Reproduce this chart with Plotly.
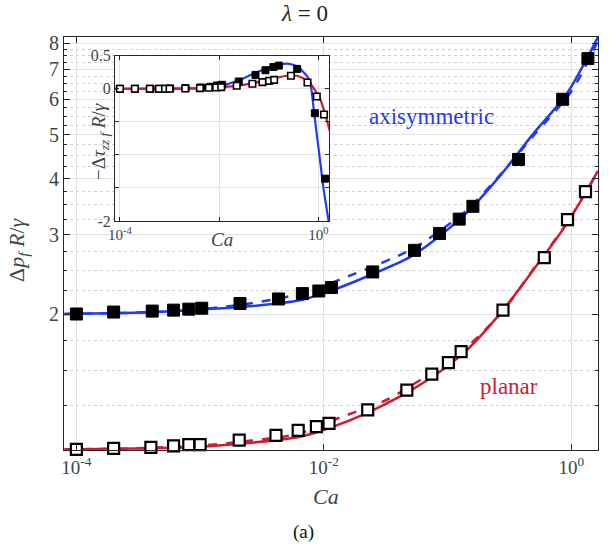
import plotly.graph_objects as go

# ---------------- data: main panel (markers) ----------------
ca_axi = [1e-4, 2e-4, 4.1e-4, 6.1e-4, 8.1e-4, 1.03e-3, 2.1e-3, 4.3e-3, 6.7e-3, 9.1e-3, 1.15e-2,
          2.48e-2, 0.054, 0.086, 0.124, 0.16, 0.374, 0.85, 1.36]
dp_axi = [2.00, 2.02, 2.03, 2.04, 2.05, 2.06, 2.11, 2.16, 2.22, 2.25, 2.29,
          2.48, 2.77, 3.02, 3.25, 3.47, 4.41, 6.00, 7.39]
ca_pla = [1e-4, 2e-4, 4e-4, 6.1e-4, 8.1e-4, 1e-3, 2.07e-3, 4.1e-3, 6.2e-3, 8.7e-3, 1.1e-2,
          0.0226, 0.0468, 0.0745, 0.1014, 0.1285, 0.28, 0.604, 0.93, 1.30, 1.68]
dp_pla = [1.00, 1.006, 1.011, 1.018, 1.025, 1.025, 1.049, 1.075, 1.103, 1.124, 1.143,
          1.224, 1.355, 1.47, 1.56, 1.65, 2.04, 2.67, 3.24, 3.74, 4.24]

# ---------------- data: main panel (curves) ----------------
ca_axi_solid = [8e-5, 3.2e-4, 1e-3, 2.5e-3, 6.4e-3, 1.18e-2, 2.2e-2, 5e-2, 7.7e-2, 0.143, 0.266, 0.495, 0.92, 1.64]
dp_axi_solid = [2.0, 2.015, 2.045, 2.08, 2.145, 2.26, 2.42, 2.68, 2.91, 3.36, 4.06, 5.04, 6.18, 8.25]
ca_axi_dash = [8e-5, 3.2e-4, 1e-3, 2.5e-3, 6.4e-3, 1.6e-2, 5.2e-2, 0.1, 0.143, 0.25, 0.5, 1.0, 1.64]
dp_axi_dash = [2.0, 2.015, 2.05, 2.11, 2.22, 2.43, 2.79, 3.15, 3.40, 4.0, 5.0, 6.25, 8.1]
ca_pla_solid = [8e-5, 3e-4, 1e-3, 6.4e-3, 1.19e-2, 2.2e-2, 4.1e-2, 7.7e-2, 0.143, 0.266, 0.495, 0.923, 1.64]
dp_pla_solid = [1.0, 1.005, 1.014, 1.067, 1.124, 1.203, 1.31, 1.456, 1.663, 2.006, 2.51, 3.18, 4.16]
ca_pla_dash = [8e-5, 3e-4, 1e-3, 2.5e-3, 6.4e-3, 1.19e-2, 3.2e-2, 4.7e-2, 7.7e-2, 0.126, 0.207, 0.28, 0.5, 0.93, 1.64]
dp_pla_dash = [1.0, 1.006, 1.02, 1.045, 1.085, 1.162, 1.288, 1.368, 1.49, 1.636, 1.86, 2.03, 2.53, 3.2, 4.15]

# ---------------- data: inset ----------------
tau_axi = [0, 0, 0, 0, 0, 0.005, 0.01, 0.02, 0.03, 0.05, 0.06,
           0.11, 0.21, 0.28, 0.33, 0.35, 0.30, -0.37, -1.36]
tau_pla = [0, 0, 0, 0, 0, 0, 0.005, 0.01, 0.015, 0.02, 0.025,
           0.045, 0.075, 0.10, 0.12, 0.135, 0.197, 0.095, -0.117, -0.39, -0.72]
ca_in_axi = [8e-5, 1e-3, 4.13e-3, 1.05e-2, 2.45e-2, 4.93e-2, 0.107, 0.233, 0.372, 0.592, 0.689, 0.804, 0.869, 1.06, 1.28, 1.61]
tau_in_axi = [0, 0.002, 0.01, 0.045, 0.125, 0.227, 0.33, 0.38, 0.34, 0.19, 0.09, -0.3, -0.52, -1.03, -1.53, -2.0]
ca_in_pla = [8e-5, 1e-3, 4.13e-3, 1.05e-2, 2.34e-2, 4.93e-2, 0.107, 0.233, 0.372, 0.592, 0.804, 1.1, 1.38, 1.7]
tau_in_pla = [0, 0.003, 0.01, 0.026, 0.045, 0.086, 0.147, 0.197, 0.197, 0.126, 0.01, -0.167, -0.39, -0.64]

main_ticks = [2, 3, 4, 5, 6, 7, 8]
minor_ticks = [1.25, 1.5, 1.75, 2.25, 2.5, 2.75, 3.25, 3.5, 3.75, 4.25, 4.5, 4.75,
               5.25, 5.5, 5.75, 6.25, 6.5, 6.75, 7.25, 7.5, 7.75]
x_ticks = [1e-4, 1e-2, 1]
x_ticktext = ["10<sup>-4</sup>", "10<sup>-2</sup>", "10<sup>0</sup>"]
in_x_ticks = [1e-4, 1]
in_x_ticktext = ["10<sup>-4</sup>", "10<sup>0</sup>"]
in_x_minor = [1e-2]
in_y_ticks = [-2, 0, 0.5]
in_y_ticktext = ["-2", "0", "0.5"]
in_y_minor = [-1.5, -1, -0.5]

BLUE = "#1f3cf2"
RED = "#cc1d33"
SERIF = "Liberation Serif"
TXT = "#3a4646"
AX = "#262626"
GRID = "#e2e2e2"

fig = go.Figure()

# main curves
fig.add_trace(go.Scatter(x=ca_axi_solid, y=dp_axi_solid, mode="lines", line=dict(color=BLUE, width=2.5, shape="spline", smoothing=0.8)))
fig.add_trace(go.Scatter(x=ca_axi_dash, y=dp_axi_dash, mode="lines", line=dict(color=BLUE, width=2.5, dash="dash", shape="spline", smoothing=0.8)))
fig.add_trace(go.Scatter(x=ca_pla_solid, y=dp_pla_solid, mode="lines", line=dict(color=RED, width=2.5, shape="spline", smoothing=0.8)))
fig.add_trace(go.Scatter(x=ca_pla_dash, y=dp_pla_dash, mode="lines", line=dict(color=RED, width=2.5, dash="dash", shape="spline", smoothing=0.8)))
# main markers
fig.add_trace(go.Scatter(x=ca_axi, y=dp_axi, mode="markers", cliponaxis=False,
                         marker=dict(symbol="square", size=12, color="black", line=dict(color="black", width=1))))
fig.add_trace(go.Scatter(x=ca_pla, y=dp_pla, mode="markers", cliponaxis=False,
                         marker=dict(symbol="square", size=11, color="white", line=dict(color="black", width=2.2))))

# inset
fig.add_trace(go.Scatter(x=ca_in_axi, y=tau_in_axi, xaxis="x2", yaxis="y2", mode="lines",
                         line=dict(color=BLUE, width=2.2, shape="spline", smoothing=0.6)))
fig.add_trace(go.Scatter(x=ca_in_pla, y=tau_in_pla, xaxis="x2", yaxis="y2", mode="lines",
                         line=dict(color=RED, width=2.2, shape="spline", smoothing=0.6)))
fig.add_trace(go.Scatter(x=ca_axi, y=tau_axi, xaxis="x2", yaxis="y2", mode="markers", cliponaxis=False,
                         marker=dict(symbol="square", size=7, color="black", line=dict(color="black", width=1))))
fig.add_trace(go.Scatter(x=ca_pla, y=tau_pla, xaxis="x2", yaxis="y2", mode="markers", cliponaxis=False,
                         marker=dict(symbol="square", size=6.5, color="white", line=dict(color="black", width=1.6))))

common_axis = dict(showline=True, linecolor=AX, linewidth=1, mirror="ticks", ticks="inside",
                   tickcolor=AX, zeroline=False, gridcolor=GRID, gridwidth=1, automargin=False)

fig.update_layout(
    width=609, height=550,
    margin=dict(l=64, r=11, t=37, b=100),
    paper_bgcolor="white", plot_bgcolor="white",
    showlegend=False,
    hovermode=False,
    xaxis=dict(type="log", range=[-4.1, 0.215], tickvals=x_ticks, ticktext=x_ticktext, ticklen=6,
               tickfont=dict(family=SERIF, size=19, color=TXT), showgrid=True, **common_axis),
    yaxis=dict(type="log", range=[-0.0012, 0.9166], tickvals=main_ticks, ticklen=6,
               tickfont=dict(family=SERIF, size=20, color=TXT), showgrid=True,
               minor=dict(tickvals=minor_ticks, ticks="inside", ticklen=3, tickcolor=AX,
                          showgrid=True, gridcolor="#cfcfcf", griddash="dot", gridwidth=1),
               **common_axis),
    xaxis2=dict(type="log", range=[-4.1, 0.215], domain=[0.0955, 0.4963], anchor="y2",
                tickvals=in_x_ticks, ticktext=in_x_ticktext, ticklen=4,
                tickfont=dict(family=SERIF, size=15, color=TXT), showgrid=True,
                minor=dict(tickvals=in_x_minor, ticks="inside", ticklen=4, tickcolor=AX,
                           showgrid=True, gridcolor=GRID, gridwidth=1),
                **common_axis),
    yaxis2=dict(range=[-2, 0.5], domain=[0.5545, 0.9547], anchor="x2",
                tickvals=in_y_ticks, ticktext=in_y_ticktext, ticklen=4,
                tickfont=dict(family=SERIF, size=16, color=TXT), showgrid=True,
                minor=dict(tickvals=in_y_minor, ticks="inside", ticklen=4, tickcolor=AX,
                           showgrid=True, gridcolor=GRID, gridwidth=1),
                **common_axis),
)

ann = [
    dict(text="<i>λ</i>\u00a0=\u00a00", x=0.4513, y=1.0557, font=dict(size=23, color="#222222")),
    dict(text="<i>Ca</i>", x=0.4906, y=-0.1138, font=dict(size=22, color=TXT)),
    dict(text="(a)", x=0.4494, y=-0.1985, font=dict(size=19, color="#111111")),
    dict(text="Δ<i>p<sub>f</sub></i> <i>R</i>/<i>γ</i>", x=-0.0861, y=0.4843, textangle=-90,
         font=dict(size=22, color=TXT)),
    dict(text="axisymmetric", x=0.6886, y=0.8087, font=dict(size=23, color=BLUE)),
    dict(text="planar", x=0.833, y=0.153, font=dict(size=23, color=RED)),
    dict(text="<i>Ca</i>", x=(222 - 64) / 534, y=(450 - 239) / 413, font=dict(size=19, color=TXT)),
    dict(text="−Δ<i>τ<sub>zz f</sub></i> <i>R</i>/<i>γ</i>", x=(100 - 64) / 534, y=(450 - 142) / 413,
         textangle=-90, font=dict(size=19, color=TXT)),
]
for a in ann:
    a.setdefault("font", {})
    a["font"]["family"] = SERIF
    fig.add_annotation(xref="paper", yref="paper", showarrow=False, xanchor="center", yanchor="middle", **a)

fig.write_html("out.html", config={"displayModeBar": False},
               post_script="document.body.style.margin='0px';")
